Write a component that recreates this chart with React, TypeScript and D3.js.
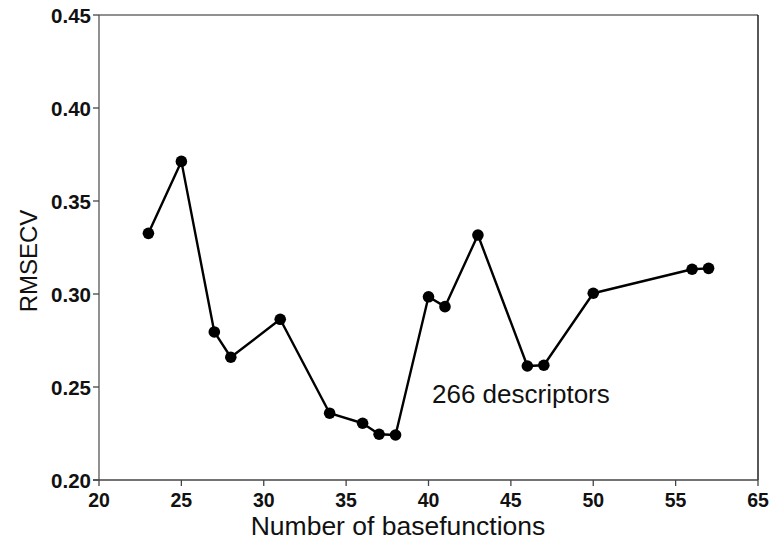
import React from "react";
import * as d3 from "d3";

const basefunctions = [23, 25, 27, 28, 31, 34, 36, 37, 38, 40, 41, 43, 46, 47, 50, 56, 57];
const rmsecv = [0.3326, 0.3713, 0.2796, 0.266, 0.2864, 0.2359, 0.2305, 0.2246, 0.2242, 0.2985, 0.2932, 0.3317, 0.2613, 0.2617, 0.3004, 0.3133, 0.3138];
const xTickValues = [20, 25, 30, 35, 40, 45, 50, 55, 60];
const xTickLabels = ["20", "25", "30", "35", "40", "45", "50", "55", "65"];
const yTickValues = [0.2, 0.25, 0.3, 0.35, 0.4, 0.45];
const annotation = "266 descriptors";
const xTitle = "Number of basefunctions";
const yTitle = "RMSECV";

const W = 772;
const H = 543;
const left = 99;
const right = 758;
const top = 15;
const bottom = 480;
const font = "'Liberation Sans', Arial, Helvetica, sans-serif";

export default function App() {
  const x = d3.scaleLinear().domain([20, 60]).range([left, right]);
  const y = d3.scaleLinear().domain([0.2, 0.45]).range([bottom, top]);
  const pts = basefunctions.map((b, i) => [b, rmsecv[i]] as [number, number]);
  const line = d3
    .line<[number, number]>()
    .x((d) => x(d[0]))
    .y((d) => y(d[1]));

  return (
    <svg
      width={W}
      height={H}
      style={{ position: "absolute", left: 0, top: 0, background: "#fff" }}
      fontFamily={font}
    >
      <rect x={0} y={0} width={W} height={H} fill="#fff" />
      {/* frame */}
      <line x1={left} y1={top} x2={right} y2={top} stroke="#6b6b6b" strokeWidth={1.6} />
      <line x1={right} y1={top} x2={right} y2={bottom} stroke="#111" strokeWidth={1.4} />
      <line x1={left} y1={top} x2={left} y2={bottom} stroke="#555" strokeWidth={1.3} />
      <line x1={left - 6} y1={bottom} x2={right} y2={bottom} stroke="#444" strokeWidth={1.3} />
      {/* y ticks */}
      {yTickValues.map((v) => (
        <g key={"y" + v}>
          <line x1={left - 6} x2={left} y1={y(v)} y2={y(v)} stroke="#444" strokeWidth={1.3} />
          <text
            x={left - 8}
            y={y(v)}
            textAnchor="end"
            dominantBaseline="central"
            fontSize={20.5}
            fontWeight="bold"
            fill="#111"
          >
            {v.toFixed(2)}
          </text>
        </g>
      ))}
      {/* x ticks */}
      {xTickValues.map((v, i) => (
        <g key={"x" + v}>
          <line x1={x(v)} x2={x(v)} y1={bottom} y2={bottom + 6} stroke="#444" strokeWidth={1.3} />
          <text x={x(v)} y={507} textAnchor="middle" fontSize={19.5} fontWeight="bold" fill="#111">
            {xTickLabels[i]}
          </text>
        </g>
      ))}
      {/* data */}
      <path d={line(pts) || ""} fill="none" stroke="#000" strokeWidth={2.4} strokeLinejoin="round" />
      {pts.map((p, i) => (
        <circle key={i} cx={x(p[0])} cy={y(p[1])} r={5.8} fill="#000" />
      ))}
      <text x={432} y={403} fontSize={26} fill="#111">
        {annotation}
      </text>
      <text x={398} y={535} textAnchor="middle" fontSize={26.5} fill="#111">
        {xTitle}
      </text>
      <text
        transform={`translate(37, 261) rotate(-90)`}
        textAnchor="middle"
        fontSize={24}
        fill="#111"
      >
        {yTitle}
      </text>
    </svg>
  );
}
